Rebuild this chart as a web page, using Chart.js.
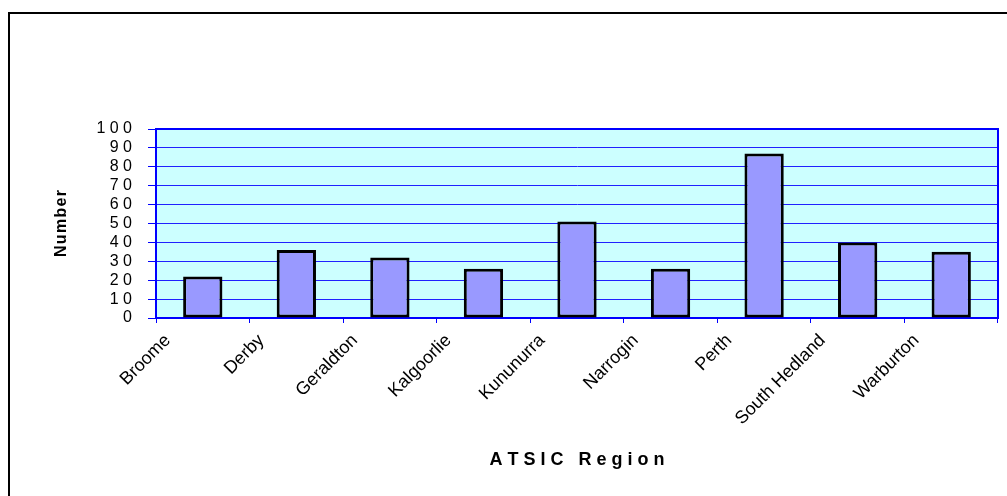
<!DOCTYPE html>
<html>
<head>
<meta charset="utf-8">
<title>ATSIC Region</title>
<script src="https://cdn.jsdelivr.net/npm/chart.js@4/dist/chart.umd.min.js"></script>
<style>
  body { margin: 0; background: #fff; }
  canvas { display: block; }
</style>
</head>
<body>
<canvas id="myChart" width="1007" height="496"></canvas>
<script>
// 各地区人数
const regions = ['Broome', 'Derby', 'Geraldton', 'Kalgoorlie', 'Kununurra', 'Narrogin', 'Perth', 'South Hedland', 'Warburton'];
const counts = [22, 36, 32, 26, 51, 26, 87, 40, 35];
const yTicks = [0, 10, 20, 30, 40, 50, 60, 70, 80, 90, 100];

const fontFamily = 'Arial, "Liberation Sans", sans-serif';

// 字母之间加空格
function spaced(str, sep) {
  return String(str).split('').join(sep);
}

// 外框、绘图区底色和蓝色边框
const frame = {
  id: 'frame',
  beforeDraw(chart) {
    const ctx = chart.ctx;
    const a = chart.chartArea;
    ctx.save();
    ctx.fillStyle = '#ffffff';
    ctx.fillRect(0, 0, chart.width, chart.height);
    ctx.strokeStyle = '#000000';
    ctx.lineWidth = 2;
    ctx.strokeRect(9, 13, chart.width + 20, chart.height + 20);
    ctx.fillStyle = '#ccffff';
    ctx.fillRect(a.left, a.top, a.right - a.left, a.bottom - a.top);
    ctx.restore();
  },
  beforeDatasetsDraw(chart) {
    const ctx = chart.ctx;
    const a = chart.chartArea;
    ctx.save();
    ctx.strokeStyle = '#0000ff';
    ctx.lineWidth = 2;
    ctx.strokeRect(a.left, a.top, a.right - a.left, a.bottom - a.top);
    ctx.restore();
  }
};

const myChart = document.getElementById('myChart').getContext('2d');
new Chart(myChart, {
  type: 'bar',
  data: {
    labels: regions,
    datasets: [{
      data: counts,
      backgroundColor: '#9999ff',
      borderColor: '#000000',
      borderWidth: 3,
      borderSkipped: false,
      barPercentage: 0.42,
      categoryPercentage: 1
    }]
  },
  options: {
    responsive: false,
    animation: false,
    devicePixelRatio: 1,
    layout: { padding: { top: 129, right: 9, left: 0, bottom: 0 } },
    plugins: {
      legend: { display: false },
      tooltip: { enabled: false }
    },
    scales: {
      x: {
        afterFit: function (scale) { scale.height = 178; },
        grid: {
          offset: true,
          drawOnChartArea: false,
          drawTicks: true,
          tickLength: 5,
          tickColor: '#0000ff'
        },
        border: { color: '#0000ff', width: 2 },
        ticks: {
          color: '#000',
          font: { family: fontFamily, size: 18 },
          minRotation: 45,
          maxRotation: 45,
          autoSkip: false,
          labelOffset: -35,
          padding: 7
        },
        title: {
          display: true,
          text: 'A T S I C   R e g i o n',
          color: '#000',
          font: { family: fontFamily, size: 18, weight: 'bold' },
          padding: { top: 0, bottom: 25 }
        }
      },
      y: {
        min: 0,
        max: 100,
        afterFit: function (scale) { scale.width = 156; },
        afterBuildTicks: function (scale) {
          scale.ticks = yTicks.map(function (v) { return { value: v }; });
        },
        grid: {
          color: '#2020ff',
          lineWidth: 1,
          drawTicks: true,
          tickLength: 8,
          tickColor: '#0000ff'
        },
        border: { color: '#0000ff', width: 2 },
        ticks: {
          color: '#000',
          autoSkip: false,
          font: { family: fontFamily, size: 16 },
          padding: 16,
          callback: function (value) { return spaced(value, ' '); }
        },
        title: {
          display: true,
          text: spaced('Number', '\u200a'),
          color: '#000',
          font: { family: fontFamily, size: 16, weight: 'bold' },
          padding: { top: 52, bottom: 0 }
        }
      }
    }
  },
  plugins: [frame]
});
</script>
</body>
</html>
